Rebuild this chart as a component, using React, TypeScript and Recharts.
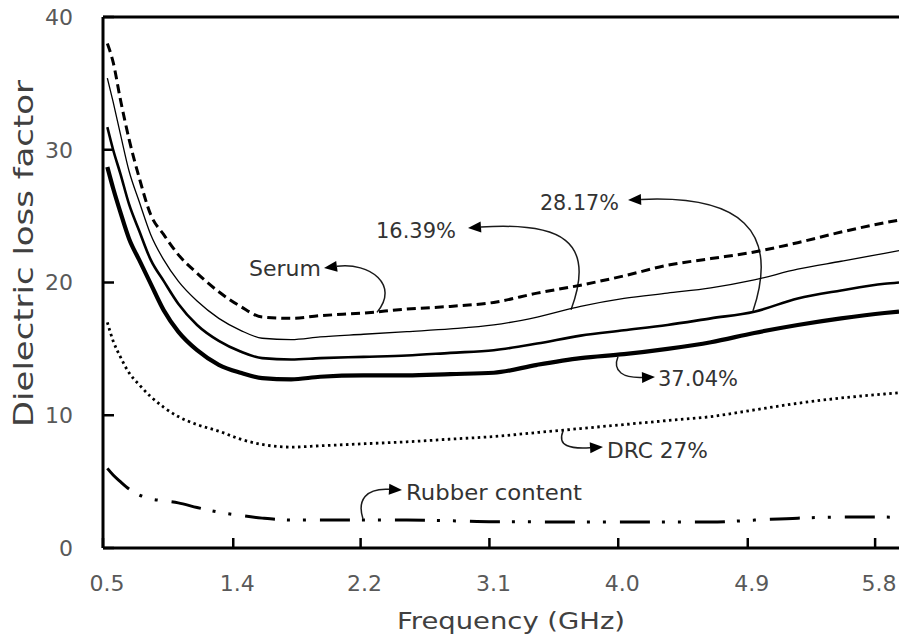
import React from "react";
import { LineChart, Line, XAxis, YAxis, ReferenceLine, Customized } from "recharts";

// Frequency (GHz) of each sample
const freq = [
  0.53, 0.57, 0.62, 0.68, 0.75, 0.83, 0.92, 1.02, 1.15, 1.3, 1.45, 1.6, 1.8, 2.0,
  2.3, 2.6, 2.9, 3.2, 3.5, 3.8, 4.1, 4.4, 4.7, 5.0, 5.3, 5.6, 5.9, 6.0,
];

// Dielectric loss factor per sample
const serum = [
  38.0, 36.6, 33.8, 30.8, 27.9, 25.1, 23.6, 22.1, 20.7, 19.3, 18.2, 17.4, 17.3, 17.5,
  17.7, 18.0, 18.2, 18.5, 19.2, 19.8, 20.5, 21.3, 21.8, 22.3, 23.0, 23.8, 24.5, 24.7,
];
const pct1639 = [
  35.4, 33.6, 31.2, 28.4, 26.1, 23.6, 21.7, 20.1, 18.6, 17.3, 16.4, 15.8, 15.7, 15.9,
  16.1, 16.3, 16.5, 16.8, 17.4, 18.2, 18.8, 19.2, 19.6, 20.2, 21.0, 21.6, 22.2, 22.4,
];
const pct2817 = [
  31.7, 30.0, 28.2, 25.9, 23.9, 21.7, 20.1, 18.4, 16.8, 15.6, 14.8, 14.3, 14.2, 14.3,
  14.4, 14.5, 14.7, 14.9, 15.4, 16.0, 16.4, 16.8, 17.3, 17.8, 18.8, 19.4, 19.9, 20.0,
];
const pct3704 = [
  28.7, 27.1, 25.3, 23.3, 21.7, 19.9, 17.9, 16.3, 14.9, 13.8, 13.2, 12.8, 12.7, 12.9,
  13.0, 13.0, 13.1, 13.2, 13.8, 14.3, 14.6, 15.0, 15.5, 16.2, 16.8, 17.3, 17.7, 17.8,
];
const drc27 = [
  17.0, 15.6, 14.4, 13.2, 12.3, 11.4, 10.6, 9.9, 9.3, 8.8, 8.2, 7.8, 7.6, 7.7,
  7.85, 8.0, 8.2, 8.4, 8.7, 9.0, 9.3, 9.6, 9.9, 10.4, 10.9, 11.3, 11.6, 11.7,
];
const rubber = [
  6.0, 5.5, 5.0, 4.45, 4.0, 3.7, 3.55, 3.4, 3.05, 2.7, 2.45, 2.25, 2.1, 2.1,
  2.1, 2.1, 2.05, 1.98, 1.97, 1.96, 1.96, 1.96, 1.96, 2.1, 2.25, 2.33, 2.33, 2.3,
];

const xTickPos = [0.5, 1.4, 2.28, 3.17, 4.06, 4.955, 5.835];
const xTickLabels = ["0.5", "1.4", "2.2", "3.1", "4.0", "4.9", "5.8"];
const yTicks = [0, 10, 20, 30, 40];

const X_MIN = 0.5;
const X_MAX = 6.0;
const Y_MAX = 40;

const data = freq.map((f, i) => ({
  f,
  serum: serum[i],
  pct1639: pct1639[i],
  pct2817: pct2817[i],
  pct3704: pct3704[i],
  drc27: drc27[i],
  rubber: rubber[i],
}));

const W = 899;
const H = 639;
const M = { top: 17, right: 0, bottom: 0, left: 0 };
const Y_AXIS_W = 103;
const X_AXIS_H = 91;
const PLOT = { left: Y_AXIS_W, right: W - M.right, top: M.top, bottom: H - X_AXIS_H };

const FONT = "'DejaVu Sans', Verdana, sans-serif";
const TICK_COLOR = "#595959";

// callouts: curve from a point on a series (tail) to the arrow tip, in data units
type Pt = [number, number];
const callouts: { text: string; width: number; anchor: "start" | "end"; at: Pt; curve: Pt[] }[] = [
  { text: "Serum", width: 72, anchor: "end", at: [2.006, 21.09], curve: [[2.393, 17.75], [2.552, 19.81], [2.345, 21.54], [2.027, 21.09]] },
  { text: "16.39%", width: 80, anchor: "end", at: [2.939, 23.95], curve: [[3.734, 17.95], [3.913, 23.2], [3.658, 24.56], [3.022, 24.11]] },
  { text: "28.17%", width: 79, anchor: "end", at: [4.065, 26.06], curve: [[4.991, 17.85], [5.178, 23.95], [4.901, 26.59], [4.128, 26.21]] },
  { text: "37.04%", width: 80, anchor: "start", at: [4.335, 12.81], curve: [[4.058, 14.4], [4.017, 13.26], [4.1, 12.81], [4.314, 12.88]] },
  { text: "DRC 27%", width: 101, anchor: "start", at: [3.982, 7.38], curve: [[3.678, 8.8], [3.637, 7.68], [3.727, 7.46], [3.955, 7.61]] },
  { text: "Rubber content", width: 176, anchor: "start", at: [2.594, 4.22], curve: [[2.296, 2.2], [2.255, 3.62], [2.317, 4.52], [2.566, 4.37]] },
];

const px = (f: number) => PLOT.left + ((f - X_MIN) / (X_MAX - X_MIN)) * (PLOT.right - PLOT.left);
const py = (v: number) => PLOT.bottom - (v / Y_MAX) * (PLOT.bottom - PLOT.top);

// ticks point into the plot, labels sit outside
function XTick(props: any) {
  const { x, payload } = props;
  const label = xTickLabels[xTickPos.indexOf(payload.value)] ?? "";
  return (
    <g>
      <line x1={x} x2={x} y1={PLOT.bottom} y2={PLOT.bottom - 10} stroke="#000" strokeWidth={2.5} />
      <text x={x + 4} y={PLOT.bottom + 43} textAnchor="middle" fontSize={22} fontFamily={FONT} fill={TICK_COLOR}>
        {label}
      </text>
    </g>
  );
}

function YTick(props: any) {
  const { y, payload } = props;
  return (
    <g>
      <line x1={PLOT.left} x2={PLOT.left + 11} y1={y} y2={y} stroke="#000" strokeWidth={2.5} />
      <text x={73} y={y} dy="0.36em" textAnchor="end" fontSize={22} fontFamily={FONT} fill={TICK_COLOR}>
        {payload.value}
      </text>
    </g>
  );
}

function Callouts() {
  return (
    <g>
      {callouts.map((c) => {
        const [p0, p1, p2, p3] = c.curve.map(([f, v]) => [px(f), py(v)]);
        const dx = p3[0] - p2[0];
        const dy = p3[1] - p2[1];
        const len = Math.hypot(dx, dy) || 1;
        const ux = dx / len;
        const uy = dy / len;
        const headLen = 13;
        const half = 5.5;
        const bx = p3[0] - ux * headLen;
        const by = p3[1] - uy * headLen;
        const head = `${p3[0]},${p3[1]} ${bx - uy * half},${by + ux * half} ${bx + uy * half},${by - ux * half}`;
        return (
          <g key={c.text}>
            <path
              d={`M${p0[0]},${p0[1]} C${p1[0]},${p1[1]} ${p2[0]},${p2[1]} ${bx},${by}`}
              fill="none"
              stroke="#1a1a1a"
              strokeWidth={1.5}
            />
            <polygon points={head} fill="#000" />
            <text
              x={px(c.at[0])}
              y={py(c.at[1])}
              dy="0.36em"
              textAnchor={c.anchor}
              fontSize={21}
              fontFamily={FONT}
              fill="#333"
              textLength={c.width}
              lengthAdjust="spacingAndGlyphs"
            >
              {c.text}
            </text>
          </g>
        );
      })}
      <text
        x={511}
        y={629}
        textAnchor="middle"
        fontSize={23.5}
        fontFamily={FONT}
        fill="#404040"
        textLength={228}
        lengthAdjust="spacingAndGlyphs"
      >
        Frequency (GHz)
      </text>
      <text
        x={33}
        y={253.5}
        transform="rotate(-90 33 253.5)"
        textAnchor="middle"
        fontSize={27}
        fontFamily={FONT}
        fill="#404040"
        textLength={347}
        lengthAdjust="spacingAndGlyphs"
      >
        Dielectric loss factor
      </text>
    </g>
  );
}

export default function App() {
  return (
    <div style={{ position: "absolute", left: 0, top: 0, width: W, height: H, background: "#fff", fontFamily: FONT }}>
      <LineChart width={W} height={H} data={data} margin={M}>
        <XAxis
          type="number"
          dataKey="f"
          domain={[X_MIN, X_MAX]}
          ticks={xTickPos}
          height={X_AXIS_H}
          axisLine={{ stroke: "#000", strokeWidth: 3 }}
          tickLine={false}
          tick={<XTick />}
          allowDataOverflow
        />
        <YAxis
          type="number"
          domain={[0, Y_MAX]}
          ticks={yTicks}
          width={Y_AXIS_W}
          axisLine={{ stroke: "#000", strokeWidth: 3 }}
          tickLine={false}
          tick={<YTick />}
          allowDataOverflow
        />
        <ReferenceLine y={Y_MAX} stroke="#000" strokeWidth={3} />
        <Line type="monotone" dataKey="serum" stroke="#000" strokeWidth={3} strokeDasharray="9 5" dot={false} isAnimationActive={false} />
        <Line type="monotone" dataKey="pct1639" stroke="#000" strokeWidth={1.3} dot={false} isAnimationActive={false} />
        <Line type="monotone" dataKey="pct2817" stroke="#000" strokeWidth={2.6} dot={false} isAnimationActive={false} />
        <Line type="monotone" dataKey="pct3704" stroke="#000" strokeWidth={4.2} dot={false} isAnimationActive={false} />
        <Line type="monotone" dataKey="drc27" stroke="#000" strokeWidth={2.8} strokeDasharray="2.5 3.5" dot={false} isAnimationActive={false} />
        <Line type="monotone" dataKey="rubber" stroke="#000" strokeWidth={3} strokeDasharray="30 12 3 13 3 14" dot={false} isAnimationActive={false} />
        <Customized component={Callouts} />
      </LineChart>
    </div>
  );
}
